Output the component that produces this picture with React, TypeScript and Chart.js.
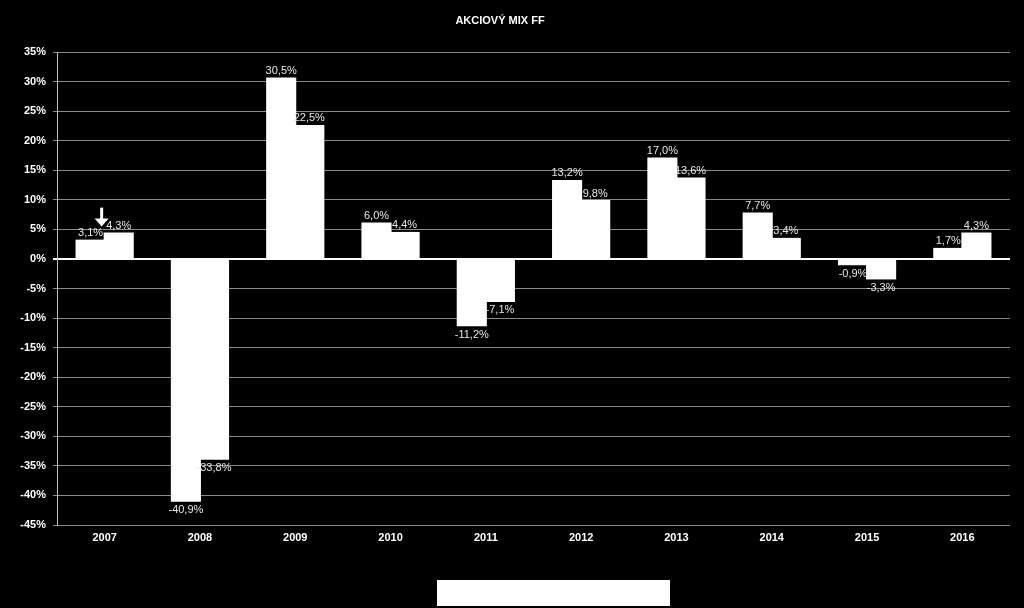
import React, { useEffect, useRef } from "react";
import { Chart, registerables } from "chart.js";

Chart.register(...registerables);

const TITLE = "AKCIOVÝ MIX FF";
const years = ["2007", "2008", "2009", "2010", "2011", "2012", "2013", "2014", "2015", "2016"];
const seriesA = [3.1, -40.9, 30.5, 6.0, -11.2, 13.2, 17.0, 7.7, -0.9, 1.7];
const seriesB = [4.3, -33.8, 22.5, 4.4, -7.1, 9.8, 13.6, 3.4, -3.3, 4.3];
const yMin = -45;
const yMax = 35;
const yStep = 5;

const fmt = (v: number) => v.toFixed(1).replace(".", ",") + "%";

const decorPlugin = {
  id: "decor",
  afterDatasetsDraw(chart: any) {
    const ctx = chart.ctx;
    ctx.save();
    ctx.font = "11px Arial, 'Liberation Sans', sans-serif";
    ctx.fillStyle = "#e6e6e6";
    ctx.textAlign = "center";
    chart.data.datasets.forEach((ds: any, di: number) => {
      const meta = chart.getDatasetMeta(di);
      meta.data.forEach((bar: any, i: number) => {
        const v = ds.data[i];
        if (v >= 0) {
          ctx.textBaseline = "bottom";
          ctx.fillText(fmt(v), bar.x, bar.y - 2);
        } else {
          ctx.textBaseline = "top";
          ctx.fillText(fmt(v), bar.x, bar.y + 4);
        }
      });
    });
    // arrow above the 2007 bars
    const b0 = chart.getDatasetMeta(0).data[0];
    const ax = b0.x + b0.width / 2 - 3;
    const tipY = chart.scales.y.getPixelForValue(seriesA[0]) - 14;
    ctx.fillStyle = "#ffffff";
    ctx.strokeStyle = "#ffffff";
    ctx.lineWidth = 3;
    ctx.beginPath();
    ctx.moveTo(ax, tipY - 19);
    ctx.lineTo(ax, tipY - 6);
    ctx.stroke();
    ctx.beginPath();
    ctx.moveTo(ax - 7, tipY - 8);
    ctx.lineTo(ax + 7, tipY - 8);
    ctx.lineTo(ax, tipY);
    ctx.closePath();
    ctx.fill();
    ctx.restore();
  },
  afterDraw(chart: any) {
    const ctx = chart.ctx;
    ctx.save();
    ctx.font = "bold 11px Arial, 'Liberation Sans', sans-serif";
    ctx.fillStyle = "#ffffff";
    ctx.textAlign = "center";
    ctx.textBaseline = "middle";
    ctx.fillText(TITLE, chart.width / 2 - 12, 21);
    // empty legend box
    const lw = 233;
    const lx = chart.width / 2 - 75;
    ctx.fillStyle = "#ffffff";
    ctx.fillRect(lx, chart.height - 28, lw, 26);
    ctx.restore();
  },
};

export default function App() {
  const ref = useRef<HTMLCanvasElement | null>(null);
  useEffect(() => {
    document.body.style.margin = "0";
    document.body.style.background = "#000";
    const chart = new Chart(ref.current!, {
      type: "bar",
      data: {
        labels: years,
        datasets: [
          { label: "A", data: seriesA, backgroundColor: "#ffffff", borderWidth: 0, inflateAmount: 1, barPercentage: 1, categoryPercentage: 0.59 },
          { label: "B", data: seriesB, backgroundColor: "#ffffff", borderWidth: 0, inflateAmount: 1, barPercentage: 1, categoryPercentage: 0.59 },
        ],
      },
      options: {
        animation: false,
        responsive: false,
        maintainAspectRatio: false,
        layout: { padding: { left: 0, right: 14, top: 52, bottom: 0 } },
        plugins: { legend: { display: false }, title: { display: false }, tooltip: { enabled: false } },
        scales: {
          x: {
            grid: { display: false },
            border: { display: false },
            ticks: { color: "#ffffff", font: { family: "Arial, 'Liberation Sans', sans-serif", size: 11, weight: "bold" }, padding: -2 },
            afterFit: (s: any) => { s.height = 83; },
          },
          y: {
            min: yMin,
            max: yMax,
            ticks: {
              stepSize: yStep,
              color: "#ffffff",
              font: { family: "Arial, 'Liberation Sans', sans-serif", size: 11, weight: "bold" },
              callback: (v: any) => v + "%",
              padding: 7,
            },
            grid: {
              color: (c: any) => (c.tick && c.tick.value === 0 ? "#ffffff" : "#8a8a8a"),
              lineWidth: (c: any) => (c.tick && c.tick.value === 0 ? 2 : 1),
              drawTicks: true,
              tickLength: 4,
            },
            border: { display: true, color: "#bfbfbf", width: 1 },
            afterFit: (s: any) => { s.width = 57; },
          },
        },
      },
      plugins: [decorPlugin],
    });
    return () => chart.destroy();
  }, []);
  return (
    <div style={{ width: 1024, height: 608, background: "#000" }}>
      <canvas ref={ref} width={1024} height={608} style={{ display: "block" }} />
    </div>
  );
}
